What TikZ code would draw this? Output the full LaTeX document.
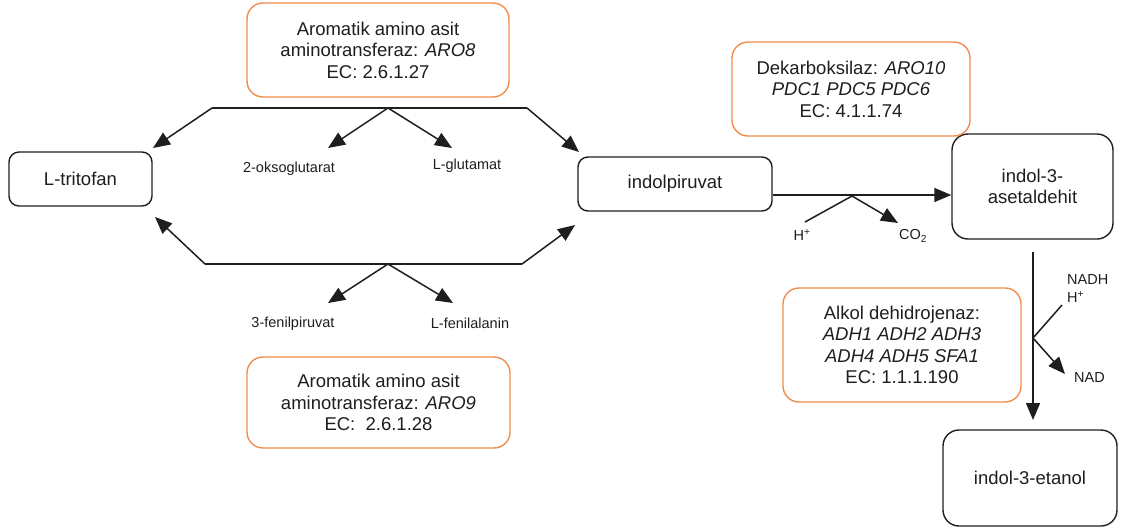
\documentclass[tikz,border=0pt]{standalone}
\usepackage{fontspec}
\setmainfont{Liberation Sans}
\usetikzlibrary{arrows.meta}
\definecolor{enzorange}{RGB}{240,140,76}
\definecolor{ink}{RGB}{30,30,30}
\begin{document}
\begin{tikzpicture}[x=1pt,y=-1pt,
  line/.style={draw=ink,line width=1.5pt},
  arr/.style={line,-{Triangle[length=17pt,width=14pt]}},
  metab/.style={draw=ink,line width=1.4pt,rounded corners=10pt,inner sep=0pt,
    font=\fontsize{18.5}{21.5}\selectfont,align=center,text=ink},
  enz/.style={draw=enzorange,line width=1.4pt,rounded corners=16pt,inner sep=0pt,
    font=\fontsize{18.5}{21.5}\selectfont,align=center,text=ink},
  small/.style={inner sep=0pt,font=\fontsize{14.5}{17}\selectfont,text=ink}]
\useasboundingbox (0,0) rectangle (1123,528);

% metabolites
\node[metab,minimum width=143pt,minimum height=54pt] (trito) at (80.5,179) {L-tritofan};
\node[metab,minimum width=194pt,minimum height=54pt] (ipyr) at (675,184) {indolpiruvat};
\node[metab,rounded corners=16pt,minimum width=161pt,minimum height=105pt] (iald) at (1032.5,186.5) {indol-3-\\asetaldehit};
\node[metab,rounded corners=16pt,minimum width=174pt,minimum height=96pt] (ieth) at (1030,478) {indol-3-etanol};

% enzymes
\node[enz,minimum width=262pt,minimum height=94pt] (aro8) at (378,50)
  {Aromatik amino asit\\aminotransferaz: \textit{ARO8}\\EC: 2.6.1.27};
\node[enz,minimum width=263pt,minimum height=91pt] (aro9) at (378.5,402.5)
  {Aromatik amino asit\\aminotransferaz: \textit{ARO9}\\EC:\ \ 2.6.1.28};
\node[enz,minimum width=238pt,minimum height=94pt] (pdc) at (851,89)
  {Dekarboksilaz: \textit{ARO10}\\\textit{PDC1 PDC5 PDC6}\\EC: 4.1.1.74};
\node[enz,minimum width=238pt,minimum height=114pt] (adh) at (902,345)
  {Alkol dehidrojenaz:\\\textit{ADH1 ADH2 ADH3}\\\textit{ADH4 ADH5 SFA1}\\EC: 1.1.1.190};

% co-substrates
\node[small] (oxo) at (289,169) {2-oksoglutarat};
\node[small] (glu) at (467,166) {L-glutamat};
\node[small] (fpyr) at (293,324) {3-fenilpiruvat};
\node[small] (phe) at (470,323) {L-fenilalanin};
\node[small] (hplus) at (802,235) {H\textsuperscript{+}};
\node[small] (co2) at (913,236) {CO\textsubscript{2}};
\node[small,anchor=west] (nadh) at (1067,280) {NADH};
\node[small,anchor=west] (hplusb) at (1067,297) {H\textsuperscript{+}};
\node[small,anchor=west] (nad) at (1074,378) {NAD};

% upper transamination (ARO8)
\coordinate (tL) at (212,108);
\coordinate (tR) at (527,108);
\coordinate (tM) at (388,108);
\coordinate (tritoT) at (153,148);
\coordinate (ipyrT) at (579,152);
\coordinate (oxoT) at (328,148);
\coordinate (gluT) at (452,148);
\draw[line] (tL) -- (tR);
\draw[arr] (tL) -- (tritoT);
\draw[arr] (tR) -- (ipyrT);
\draw[arr] (tM) -- (oxoT);
\draw[arr] (tM) -- (gluT);

% lower transamination (ARO9)
\coordinate (bL) at (205,264);
\coordinate (bR) at (522,264);
\coordinate (bM) at (388,264);
\coordinate (tritoB) at (155,217);
\coordinate (ipyrB) at (575,225);
\coordinate (fpyrT) at (328,303);
\coordinate (pheT) at (453,303);
\draw[line] (bL) -- (bR);
\draw[arr] (bL) -- (tritoB);
\draw[arr] (bR) -- (ipyrB);
\draw[arr] (bM) -- (fpyrT);
\draw[arr] (bM) -- (pheT);

% decarboxylation
\coordinate (dS) at (ipyr.east |- 0,195);
\coordinate (dE) at (iald.west |- 0,195);
\coordinate (dM) at (852,196);
\coordinate (hT) at (805,222);
\coordinate (co2T) at (898,223);
\draw[arr] (dS) -- (dE);
\draw[line] (hT) -- (dM);
\draw[arr] (dM) -- (co2T);

% reduction
\coordinate (rS) at (1033,252);
\coordinate (rE) at (1033,420);
\coordinate (rM) at (1033,338);
\coordinate (nadhT) at (1062,305);
\coordinate (nadT) at (1065,374);
\draw[arr] (rS) -- (rE);
\draw[line] (nadhT) -- (rM);
\draw[arr] (rM) -- (nadT);
\end{tikzpicture}
\end{document}
